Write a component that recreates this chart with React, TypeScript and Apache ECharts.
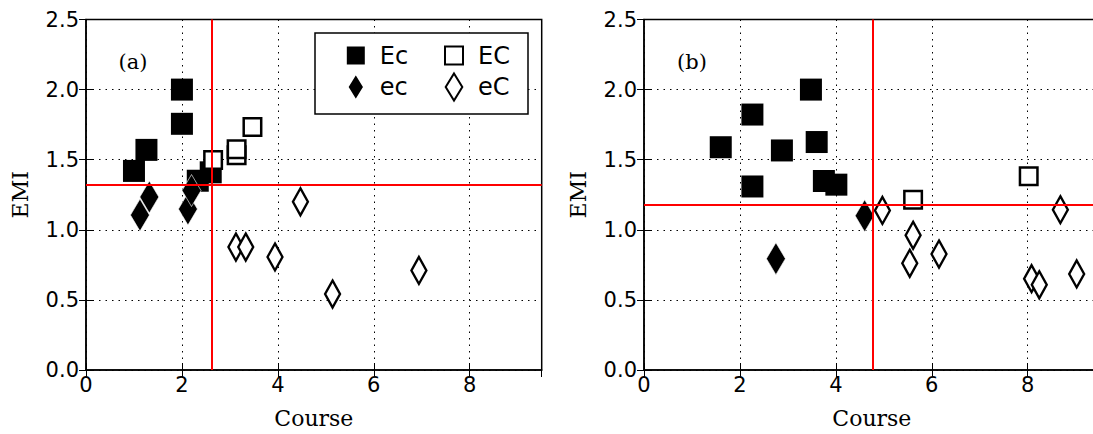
import React, { useEffect, useRef } from "react";
import * as echarts from "echarts";

// ---- data (panel a) ----
const EcA: number[][] = [[1.0, 1.42], [1.26, 1.57], [2.0, 2.0], [2.0, 1.756], [2.33, 1.35], [2.6, 1.41]];
const ecA: number[][] = [[1.125, 1.105], [1.32, 1.234], [2.125, 1.148], [2.2, 1.28]];
const ECA: number[][] = [[2.65, 1.498], [3.14, 1.532], [3.14, 1.575], [3.47, 1.733]];
const eCA: number[][] = [[3.125, 0.877], [3.33, 0.877], [3.94, 0.806], [4.47, 1.2], [5.14, 0.542], [6.94, 0.71]];
const redA = { x: 2.625, y: 1.322 };

// ---- data (panel b) ----
const EcB: number[][] = [[1.6, 1.589], [2.26, 1.822], [2.26, 1.309], [2.875, 1.566], [3.48, 2.0], [3.6, 1.626], [3.75, 1.348], [4.01, 1.322]];
const ecB: number[][] = [[2.75, 0.794], [4.6, 1.1]];
const ECB: number[][] = [[5.61, 1.215], [8.02, 1.382]];
const eCB: number[][] = [[4.97, 1.138], [5.61, 0.961], [5.54, 0.761], [6.15, 0.827], [8.08, 0.651], [8.24, 0.608], [8.68, 1.143], [9.02, 0.685]];
const redB = { x: 4.77, y: 1.182 };

const xTickStep = 2;
const xRange = [0, 9.5];
const yTickStep = 0.5;
const yRange = [0, 2.5];
const panelLabels = ["(a)", "(b)"];
const xName = "Course";
const yName = "EMI";

const SANS = "DejaVu Sans";
const SERIF = "DejaVu Serif";

const squarePath = "path://M0,0L10,0L10,10L0,10Z";
const diamondPath = "path://M8,0L16,13L8,26L0,13Z";

function xAxis(gridIndex: number, position: "bottom" | "top") {
  const main = position === "bottom";
  return {
    type: "value",
    gridIndex,
    position,
    min: xRange[0],
    max: xRange[1],
    interval: xTickStep,
    axisLine: { show: main, lineStyle: { color: "#000", width: 1.5 } },
    axisTick: { show: true, inside: true, length: 7, lineStyle: { color: "#000", width: 1 } },
    axisLabel: {
      show: main,
      showMaxLabel: false,
      margin: 4,
      color: "#000",
      fontSize: 21,
      fontFamily: SANS,
      formatter: (v: number) => String(v),
    },
    splitLine: { show: main, lineStyle: { color: "#000", width: 1, type: [1.5, 5] } },
    name: main ? xName : "",
    nameLocation: "middle",
    nameGap: 37,
    nameMoveOverlap: false,
    nameTextStyle: { color: "#000", fontSize: 22, fontFamily: SERIF },
  };
}

function yAxis(gridIndex: number, position: "left" | "right") {
  const main = position === "left";
  return {
    type: "value",
    gridIndex,
    position,
    min: yRange[0],
    max: yRange[1],
    interval: yTickStep,
    axisLine: { show: main, lineStyle: { color: "#000", width: 1.5 } },
    axisTick: { show: true, inside: true, length: 7, lineStyle: { color: "#000", width: 1 } },
    axisLabel: {
      show: main,
      margin: 7,
      color: "#000",
      fontSize: 21,
      fontFamily: SANS,
      formatter: (v: number) => v.toFixed(1),
    },
    splitLine: { show: main, lineStyle: { color: "#000", width: 1, type: [1.5, 5] } },
    name: main ? yName : "",
    nameLocation: "middle",
    nameGap: 55,
    nameMoveOverlap: false,
    nameTextStyle: { color: "#000", fontSize: 22, fontFamily: SERIF },
  };
}

function panelSeries(xi: number, yi: number, Ec: number[][], ec: number[][], EC: number[][], eC: number[][], red: { x: number; y: number }) {
  const common = { type: "scatter", xAxisIndex: xi, yAxisIndex: yi, emphasis: { disabled: true }, silent: true };
  return [
    { ...common, name: "Ec", data: Ec, symbol: "rect", symbolSize: 22, itemStyle: { color: "#000", borderColor: "#000", borderWidth: 0, opacity: 1 } },
    { ...common, name: "ec", data: ec, symbol: "diamond", symbolSize: [19, 32], itemStyle: { color: "#000", borderColor: "#fff", borderWidth: 0.6, opacity: 1 } },
    { ...common, name: "EC", data: EC, symbol: "rect", symbolSize: 17.5, itemStyle: { color: "#fff", borderColor: "#000", borderWidth: 2.5, opacity: 1 } },
    { ...common, name: "eC", data: eC, symbol: "diamond", symbolSize: [15, 27], itemStyle: { color: "#fff", borderColor: "#000", borderWidth: 2.5, opacity: 1 } },
    {
      ...common,
      name: "red",
      data: [],
      z: 5,
      markLine: {
        silent: true,
        symbol: ["none", "none"],
        label: { show: false },
        lineStyle: { color: "#ff0000", width: 2, type: "solid", opacity: 1 },
        emphasis: { disabled: true },
        data: [{ xAxis: red.x }, { yAxis: red.y }],
      },
    },
  ];
}

export default function App() {
  const ref = useRef<HTMLDivElement>(null);
  useEffect(() => {
    if (!ref.current) return;
    const chart = echarts.init(ref.current, undefined, { renderer: "svg" });
    const gridBase = { top: 19.5, width: 455.7, height: 350.5, show: true, borderColor: "#000", borderWidth: 1.5, outerBoundsMode: "none", containLabel: false };
    const legendBase = {
      orient: "vertical",
      top: 43.5,
      itemWidth: 18,
      itemHeight: 27,
      itemGap: 5,
      padding: 0,
      selectedMode: false,
      z: 6,
      formatter: (n: string) => `{g|}{t|${n}}`,
      textStyle: {
        color: "#000",
        fontSize: 24,
        fontFamily: SANS,
        rich: {
          g: { width: 10, height: 10 },
          t: { color: "#000", fontSize: 24, fontFamily: SANS },
        },
      },
    };
    chart.setOption({
      animation: false,
      backgroundColor: "#fff",
      grid: [
        { ...gridBase, left: 86 },
        { ...gridBase, left: 644 },
      ],
      xAxis: [xAxis(0, "bottom"), xAxis(0, "top"), xAxis(1, "bottom"), xAxis(1, "top")],
      yAxis: [yAxis(0, "left"), yAxis(0, "right"), yAxis(1, "left"), yAxis(1, "right")],
      legend: [
        { ...legendBase, left: 346.5, data: [{ name: "Ec", icon: squarePath }, { name: "ec", icon: diamondPath }] },
        { ...legendBase, left: 444, data: [{ name: "EC", icon: squarePath }, { name: "eC", icon: diamondPath }] },
      ],
      graphic: [
        {
          type: "rect",
          z: 5,
          shape: { x: 315, y: 33, width: 213, height: 81 },
          style: { fill: "#fff", stroke: "#000", lineWidth: 1.5 },
        },
        {
          type: "text",
          z: 5,
          style: { text: panelLabels[0], x: 133, y: 62, fill: "#000", fontSize: 21, fontFamily: SERIF, align: "center", verticalAlign: "middle" },
        },
        {
          type: "text",
          z: 5,
          style: { text: panelLabels[1], x: 692, y: 62, fill: "#000", fontSize: 21, fontFamily: SERIF, align: "center", verticalAlign: "middle" },
        },
      ],
      series: [
        ...panelSeries(0, 0, EcA, ecA, ECA, eCA, redA),
        ...panelSeries(2, 2, EcB, ecB, ECB, eCB, redB),
      ],
    });
    return () => chart.dispose();
  }, []);
  return (
    <div
      ref={ref}
      style={{ position: "absolute", left: 0, top: 0, width: 1093, height: 434, overflow: "hidden" }}
    />
  );
}
